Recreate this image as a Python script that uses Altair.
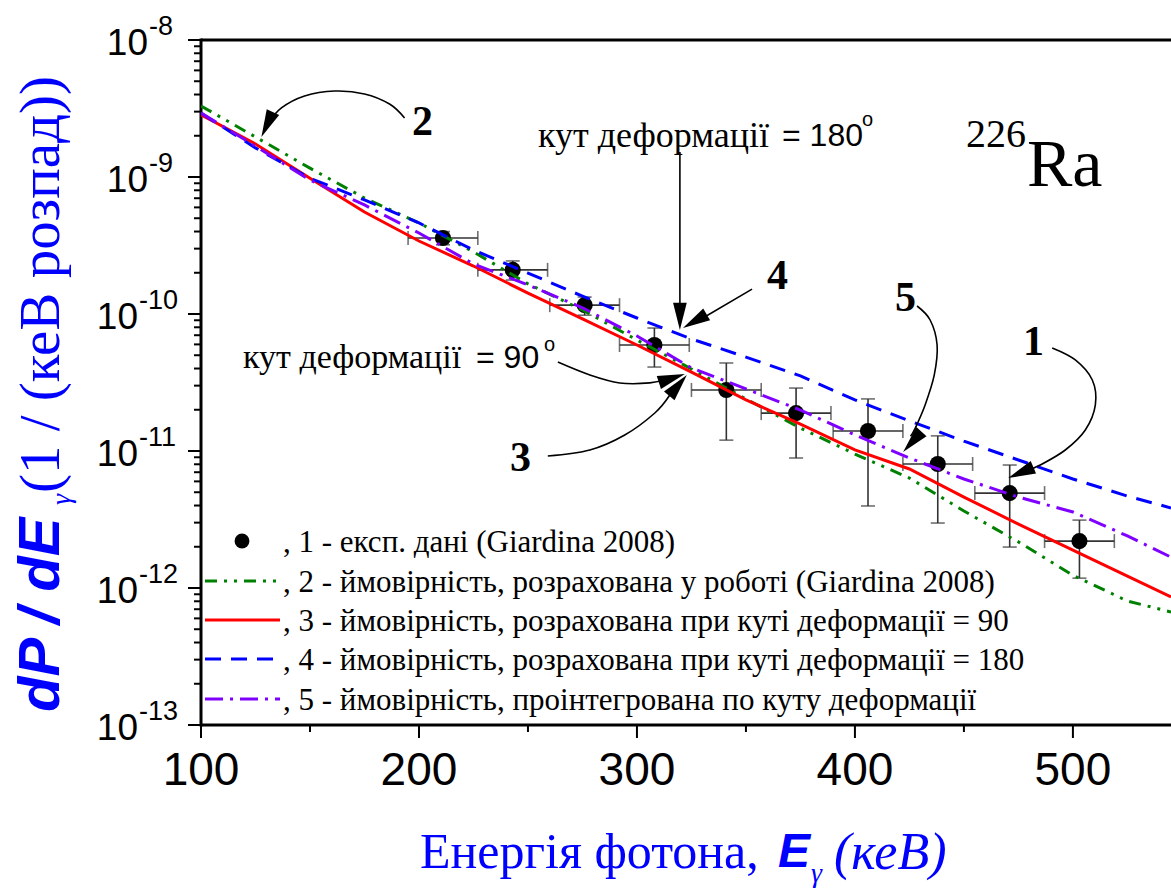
import altair as alt
import pandas as pd

# ---------------- model curves: dP/dE (1/(keV decay)) vs photon energy (keV) ----------------
energy_grid = [100, 125, 150, 175, 200, 225, 250, 275, 300, 325, 350, 375, 400, 425, 450, 475, 500, 525, 545]
prob_giardina = [3.30e-9, 1.96e-9, 1.16e-9, 7.03e-10, 4.62e-10, 2.84e-10, 1.66e-10, 1.07e-10, 6.46e-11, 3.97e-11,
                 2.40e-11, 1.47e-11, 9.5e-12, 6.35e-12, 3.65e-12, 2.17e-12, 1.24e-12, 8.04e-13, 6.68e-13]
prob_angle90 = [2.84e-9, 1.74e-9, 9.8e-10, 5.55e-10, 3.41e-10, 2.24e-10, 1.42e-10, 9.2e-11, 5.94e-11, 3.77e-11,
                2.36e-11, 1.57e-11, 1.02e-11, 7.39e-12, 4.61e-12, 2.93e-12, 1.89e-12, 1.22e-12, 8.6e-13]
prob_angle180 = [2.93e-9, 1.63e-9, 9.8e-10, 6.8e-10, 4.62e-10, 2.93e-10, 1.99e-10, 1.35e-10, 9.35e-11, 6.57e-11,
                 4.85e-11, 3.53e-11, 2.36e-11, 1.66e-11, 1.18e-11, 8.6e-12, 6.25e-12, 4.69e-12, 3.84e-12]
prob_integrated = [2.93e-9, 1.68e-9, 9.5e-10, 6.25e-10, 3.90e-10, 2.32e-10, 1.63e-10, 1.11e-10, 6.91e-11, 4.04e-11,
                   2.84e-11, 1.99e-11, 1.31e-11, 8.89e-12, 6.25e-12, 4.61e-12, 3.59e-12, 2.40e-12, 1.68e-12]

# ---------------- experimental data (Giardina 2008) ----------------
exp_energy = [211, 243, 276, 308, 341, 373, 406, 438, 471, 503]
exp_halfwidth = [16, 16, 16, 16, 16, 16, 16, 16, 16, 16]
exp_value = [3.59e-10, 2.10e-10, 1.16e-10, 5.94e-11, 2.79e-11, 1.89e-11, 1.40e-11, 8.04e-12, 4.93e-12, 2.20e-12]
exp_upper = [4.0e-10, 2.44e-10, 1.33e-10, 7.9e-11, 4.39e-11, 2.88e-11, 2.40e-11, 1.29e-11, 7.9e-12, 3.13e-12]
exp_lower = [3.2e-10, 1.77e-10, 9.8e-11, 4.10e-11, 1.20e-11, 8.89e-12, 3.97e-12, 2.98e-12, 1.99e-12, 1.18e-12]

# ---------------- axis ticks ----------------
x_major = [100, 200, 300, 400, 500]
x_major_labels = ["100", "200", "300", "400", "500"]
x_minor = [150, 250, 350, 450]
y_decades = [1e-13, 1e-12, 1e-11, 1e-10, 1e-9, 1e-8]
y_decades_long = [1e-13, 1e-12, 1e-11, 1e-10]
y_exp_long = ["-13", "-12", "-11", "-10"]
y_decades_short = [1e-9, 1e-8]
y_exp_short = ["-9", "-8"]
y_minor = [m * 10.0 ** k for k in range(-13, -8) for m in range(2, 10)]

# ---------------- annotation arrows (energy, dP/dE) ----------------
arrow2_e = [193.4, 186.5, 175.0, 161.3, 147.5, 136.9, 130.5, 129.0]
arrow2_v = [2.70e-9, 3.41e-9, 4.04e-9, 4.24e-9, 3.90e-9, 3.19e-9, 2.44e-9, 2.20e-9]
arrow180_e = [319.7, 319.7]
arrow180_v = [1.52e-9, 1.05e-10]
arrow4_e = [352.8, 328.5]
arrow4_v = [1.52e-10, 9.0e-11]
arrow90_e = [263.7, 278.4, 292.1, 305.9, 313.5]
arrow90_v = [4.46e-11, 3.59e-11, 3.14e-11, 3.14e-11, 3.35e-11]
arrow3_e = [259.1, 278.4, 294.4, 308.2, 315.0]
arrow3_v = [9.19e-12, 1.017e-11, 1.308e-11, 1.894e-11, 2.55e-11]
arrow5_e = [428.5, 434.5, 437.7, 436.4, 432.2, 427.5, 425.5]
arrow5_v = [1.144e-10, 9.04e-11, 5.94e-11, 3.59e-11, 2.17e-11, 1.45e-11, 1.28e-11]
arrow1_e = [490.5, 501.1, 508.9, 510.3, 505.7, 496.5, 485.0, 478.0]
arrow1_v = [5.65e-11, 4.62e-11, 3.30e-11, 2.17e-11, 1.423e-11, 1.017e-11, 7.90e-12, 7.10e-12]
# arrow tips and their pointing direction (degrees, clockwise from up)
tip_e = [127.7, 319.7, 321.1, 322.0, 322.9, 422.1, 470.3]
tip_v = [1.96e-9, 7.64e-11, 7.90e-11, 3.65e-11, 3.59e-11, 9.83e-12, 6.35e-12]
tip_angle = [205, 180, 240, 72, 40, 222, 247]

legend_labels = [
    ", 1 - експ. дані (Giardina 2008)",
    ", 2 - ймовірність, розрахована у роботі (Giardina 2008)",
    ", 3 - ймовірність, розрахована при куті деформації = 90",
    ", 4 - ймовірність, розрахована при куті деформації = 180",
    ", 5 - ймовірність, проінтегрована по куту деформації",
]

# ---------------- layout ----------------
LEFT, TOP = 201, 40
W, H = 970, 685
SERIF = "'Liberation Serif', 'Times New Roman', serif"
SANS = "'Liberation Sans', Arial, sans-serif"
BLUE_TXT = "#0000ff"

xs = alt.Scale(domain=[100, 545], nice=False, zero=False)
ys = alt.Scale(type="log", domain=[1e-13, 1e-8], nice=False)


def X(field):
    return alt.X(f"{field}:Q", scale=xs, axis=None)


def Y(field):
    return alt.Y(f"{field}:Q", scale=ys, axis=None)


def one():
    return alt.Chart(pd.DataFrame({"a": [0]}))


def label(text, x, y, size, font=SERIF, color="black", align="left", baseline="middle",
          angle=0, style="normal", weight="normal"):
    return alt.Chart(pd.DataFrame({"t": [text]})).mark_text(
        align=align, baseline=baseline, fontSize=size, font=font, color=color,
        angle=angle, fontStyle=style, fontWeight=weight
    ).encode(text="t:N", x=alt.value(x - LEFT), y=alt.value(y - TOP))


layers = []

# frame: left axis, bottom axis and top line
layers += [
    one().mark_rule(color="black", strokeWidth=3).encode(x=alt.value(0), x2=alt.value(W), y=alt.value(0)),
    one().mark_rule(color="black", strokeWidth=3).encode(x=alt.value(0), x2=alt.value(W), y=alt.value(H)),
    one().mark_rule(color="black", strokeWidth=3).encode(x=alt.value(0), y=alt.value(-1.5), y2=alt.value(H + 1.5)),
]

# ticks
layers += [
    alt.Chart(pd.DataFrame({"v": y_decades})).mark_rule(color="black", strokeWidth=2).encode(
        y=Y("v"), x=alt.value(-13), x2=alt.value(0)),
    alt.Chart(pd.DataFrame({"v": y_minor})).mark_rule(color="black", strokeWidth=2).encode(
        y=Y("v"), x=alt.value(-7), x2=alt.value(0)),
    alt.Chart(pd.DataFrame({"E": x_major})).mark_rule(color="black", strokeWidth=2).encode(
        x=X("E"), y=alt.value(H), y2=alt.value(H + 13)),
    alt.Chart(pd.DataFrame({"E": x_minor})).mark_rule(color="black", strokeWidth=2).encode(
        x=X("E"), y=alt.value(H), y2=alt.value(H + 7)),
]

# x tick labels
layers.append(
    alt.Chart(pd.DataFrame({"E": x_major, "t": x_major_labels})).mark_text(
        align="center", baseline="middle", fontSize=46, font=SANS, color="black").encode(
        x=X("E"), y=alt.value(H + 46), text="t:N")
)

# y tick labels: 10 with a raised exponent
for decs, exps, right in [(y_decades_long, y_exp_long, 138), (y_decades_short, y_exp_short, 148)]:
    df = pd.DataFrame({"v": decs, "p": exps})
    layers.append(
        alt.Chart(df).mark_text(align="right", baseline="middle", fontSize=37, font=SANS,
                                color="black", dy=4).encode(
            y=Y("v"), x=alt.value(right - LEFT), text=alt.value("10"))
    )
    layers.append(
        alt.Chart(df).mark_text(align="left", baseline="middle", fontSize=27, font=SANS,
                                color="black", dy=-13).encode(
            y=Y("v"), x=alt.value(right + 1 - LEFT), text="p:N")
    )

# experimental points with error bars
exp_df = pd.DataFrame({
    "E": exp_energy, "v": exp_value, "lo": exp_lower, "hi": exp_upper,
    "El": [e - h for e, h in zip(exp_energy, exp_halfwidth)],
    "Eh": [e + h for e, h in zip(exp_energy, exp_halfwidth)],
})
ERR = "#333333"
base = alt.Chart(exp_df)
layers += [
    base.mark_rule(color=ERR, strokeWidth=1.6).encode(x=X("E"), y=Y("lo"), y2="hi:Q"),
    base.mark_rule(color=ERR, strokeWidth=1.6).encode(y=Y("v"), x=X("El"), x2="Eh:Q"),
    base.mark_tick(color=ERR, orient="horizontal", size=14, thickness=1.6).encode(x=X("E"), y=Y("lo")),
    base.mark_tick(color=ERR, orient="horizontal", size=14, thickness=1.6).encode(x=X("E"), y=Y("hi")),
    base.mark_tick(color=ERR, orient="vertical", size=14, thickness=1.6).encode(x=X("El"), y=Y("v")),
    base.mark_tick(color=ERR, orient="vertical", size=14, thickness=1.6).encode(x=X("Eh"), y=Y("v")),
    base.mark_circle(color="black", size=260, opacity=1).encode(x=X("E"), y=Y("v")),
]

# model curves
curves = [
    (prob_giardina, "#008000", [12, 7, 3, 7, 3, 7]),
    (prob_angle90, "#ff0000", None),
    (prob_angle180, "#0000ff", [16, 10]),
    (prob_integrated, "#8000ff", [18, 7, 3, 7]),
]
for vals, col, dash in curves:
    kw = dict(color=col, strokeWidth=3, clip=True)
    if dash:
        kw["strokeDash"] = dash
    layers.append(
        alt.Chart(pd.DataFrame({"E": energy_grid, "v": vals})).mark_line(**kw).encode(
            x=X("E"), y=Y("v"))
    )

# annotation arrows
arrow_rows = []
for name, es, vs in [("2", arrow2_e, arrow2_v), ("180", arrow180_e, arrow180_v), ("4", arrow4_e, arrow4_v),
                     ("90", arrow90_e, arrow90_v), ("3", arrow3_e, arrow3_v), ("5", arrow5_e, arrow5_v),
                     ("1", arrow1_e, arrow1_v)]:
    for i, (e, v) in enumerate(zip(es, vs)):
        arrow_rows.append({"a": name, "i": i, "E": e, "v": v})
layers.append(
    alt.Chart(pd.DataFrame(arrow_rows)).mark_line(color="black", strokeWidth=1.6, interpolate="cardinal").encode(
        x=X("E"), y=Y("v"), detail="a:N", order="i:Q")
)
layers.append(
    alt.Chart(pd.DataFrame({"E": tip_e, "v": tip_v, "ang": tip_angle})).mark_point(
        shape="M0,0L-0.5,2L0.5,2Z", filled=True, color="black", size=750, opacity=1, strokeWidth=0
    ).encode(x=X("E"), y=Y("v"), angle=alt.Angle("ang:Q", scale=None))
)

# annotation texts
layers += [
    label("2", 412, 122, 42, weight="bold"),
    label("4", 767, 276, 42, weight="bold"),
    label("5", 895, 298, 42, weight="bold"),
    label("1", 1023, 342, 42, weight="bold"),
    label("3", 510, 458, 42, weight="bold"),
    label("кут деформації", 538, 136, 36),
    label("= 180", 782, 136, 32, font=SANS),
    label("o", 862, 120, 20, font=SANS),
    label("кут деформації", 243, 358, 34),
    label("= 90", 476, 358, 32, font=SANS),
    label("o", 544, 345, 20, font=SANS),
    label("226", 966, 135, 40),
    label("Ra", 1027, 186, 68, baseline="alphabetic"),
]

# legend (drawn inside the plot)
legend_rows_y = [541, 581, 620, 659, 699]
layers.append(
    one().mark_point(filled=True, color="black", size=220, opacity=1).encode(
        x=alt.value(242 - LEFT), y=alt.value(legend_rows_y[0] - TOP))
)
for (vals, col, dash), ry in zip(curves, legend_rows_y[1:]):
    kw = dict(color=col, strokeWidth=3)
    if dash:
        kw["strokeDash"] = dash
    layers.append(
        one().mark_rule(**kw).encode(x=alt.value(205 - LEFT), x2=alt.value(280 - LEFT), y=alt.value(ry - TOP))
    )
for txt, ry in zip(legend_labels, legend_rows_y):
    layers.append(label(txt, 283, ry + 2, 31))

# axis titles
layers += [
    label("Енергія фотона,", 420, 853, 50, color=BLUE_TXT),
    label("E", 778, 853, 48, font=SANS, color=BLUE_TXT, style="italic", weight="bold"),
    label("γ", 811, 874, 28, color=BLUE_TXT, style="italic"),
    label("(кеВ)", 834, 853, 52, color=BLUE_TXT, style="italic"),
    label("dP / dE", 42, 712, 58, font=SANS, color=BLUE_TXT, style="italic", weight="bold", angle=270),
    label("γ", 62, 505, 28, color=BLUE_TXT, style="italic", angle=270),
    label("(1 / (кеВ розпад))", 42, 493, 57, color=BLUE_TXT, angle=270),
]

chart = alt.layer(*layers).properties(
    width=W, height=H,
    autosize=alt.AutoSizeParams(type="none"),
    padding={"left": LEFT, "top": TOP, "right": 0, "bottom": 890 - TOP - H},
).configure_view(strokeWidth=0).configure(background="white")

chart.save("out.html", embed_options={"renderer": "svg", "actions": False})
